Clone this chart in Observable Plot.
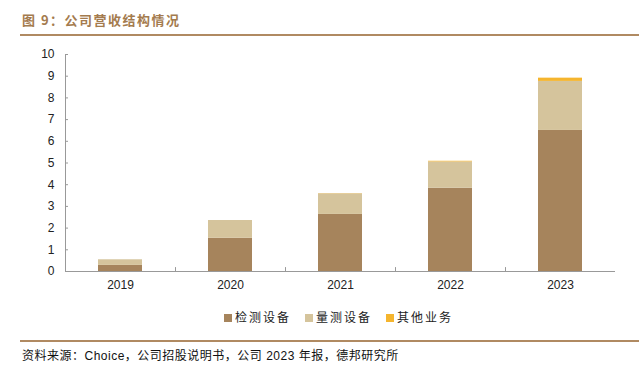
<!DOCTYPE html>
<html><head><meta charset="utf-8">
<script src="https://cdn.jsdelivr.net/npm/d3@7"></script>
<script src="https://cdn.jsdelivr.net/npm/@observablehq/plot@0.6"></script>
<style>
body{margin:0;background:#fff;width:639px;height:376px;position:relative;font-family:"Liberation Sans","Noto Sans CJK SC",sans-serif;overflow:hidden}
#title{position:absolute;left:22px;top:10px;font-size:13px;font-weight:bold;color:#A47B4E;letter-spacing:1.5px;font-family:"Noto Sans CJK SC",sans-serif}
.line{position:absolute;left:20px;right:0;height:2px;background:#B08A62}
#chart{position:absolute;left:0;top:40px}
#legend{position:absolute;top:308px;left:0;width:639px;display:flex;justify-content:center;gap:14px;font-size:12px;color:#222;font-family:"Noto Sans CJK SC",sans-serif;letter-spacing:2px;padding-left:38px;box-sizing:border-box}
#legend span.sw{display:inline-block;width:8px;height:8px;margin-right:3px;vertical-align:middle;position:relative;top:-1px}
#caption{position:absolute;left:22px;top:346px;font-size:12px;color:#111;font-family:"Liberation Sans","Noto Sans CJK SC",sans-serif;letter-spacing:0.5px}
</style></head>
<body>
<div id="title"></div>
<div class="line" style="top:34px"></div>
<div id="chart"></div>
<div id="legend"></div>
<div class="line" style="top:340px"></div>
<div id="caption"></div>
<script>
const titleText = "图 9：公司营收结构情况";
const captionText = "资料来源：Choice，公司招股说明书，公司 2023 年报，德邦研究所";
const years = ["2019", "2020", "2021", "2022", "2023"];
const seriesNames = ["检测设备", "量测设备", "其他业务"];
const inspection = [0.28, 1.53, 2.63, 3.84, 6.50];
const metrology = [0.26, 0.82, 0.95, 1.21, 2.26];
const other = [0.00, 0.00, 0.01, 0.03, 0.15];
const colors = ["#A6845C", "#D5C49C", "#F5B52E"];
const yTicks = [0,1,2,3,4,5,6,7,8,9,10];

document.getElementById("title").textContent = titleText;
document.getElementById("caption").textContent = captionText;

const data = [];
years.forEach((y, i) => {
  data.push({year: y, series: seriesNames[0], value: inspection[i]});
  data.push({year: y, series: seriesNames[1], value: metrology[i]});
  data.push({year: y, series: seriesNames[2], value: other[i]});
});

const axisColor = "#999";
const chart = Plot.plot({
  width: 639,
  height: 261,
  marginTop: 14,
  marginBottom: 30,
  marginLeft: 65,
  marginRight: 24,
  style: {fontFamily: "Liberation Sans, Arial, sans-serif", fontSize: "12px", color: "#222", background: "transparent"},
  x: {domain: years, paddingInner: 0.6, paddingOuter: 0.3, label: null},
  y: {domain: [0, 10], label: null},
  color: {domain: seriesNames, range: colors},
  marks: [
    Plot.barY(data, {x: "year", y: "value", fill: "series", order: seriesNames}),
    Plot.ruleY([0], {stroke: axisColor, strokeWidth: 1.2}),
    Plot.frame({anchor: "left", stroke: axisColor}),
    Plot.tickY(yTicks.slice(1), {y: d => d, stroke: axisColor, insetRight: 547}),
    Plot.ruleX(years.slice(0, 4), {x: d => d, y1: 0, y2: 0.18, dx: 55, stroke: axisColor}),
    Plot.axisY({ticks: yTicks, tickSize: 0, tickPadding: 11, tickFormat: d => String(d)}),
    Plot.axisX({tickSize: 0, tickPadding: 9})
  ]
});
document.getElementById("chart").appendChild(chart);

const legend = document.getElementById("legend");
seriesNames.forEach((s, i) => {
  const item = document.createElement("div");
  const sw = document.createElement("span");
  sw.className = "sw";
  sw.style.background = colors[i];
  item.appendChild(sw);
  item.appendChild(document.createTextNode(s));
  legend.appendChild(item);
});
</script>
</body></html>
